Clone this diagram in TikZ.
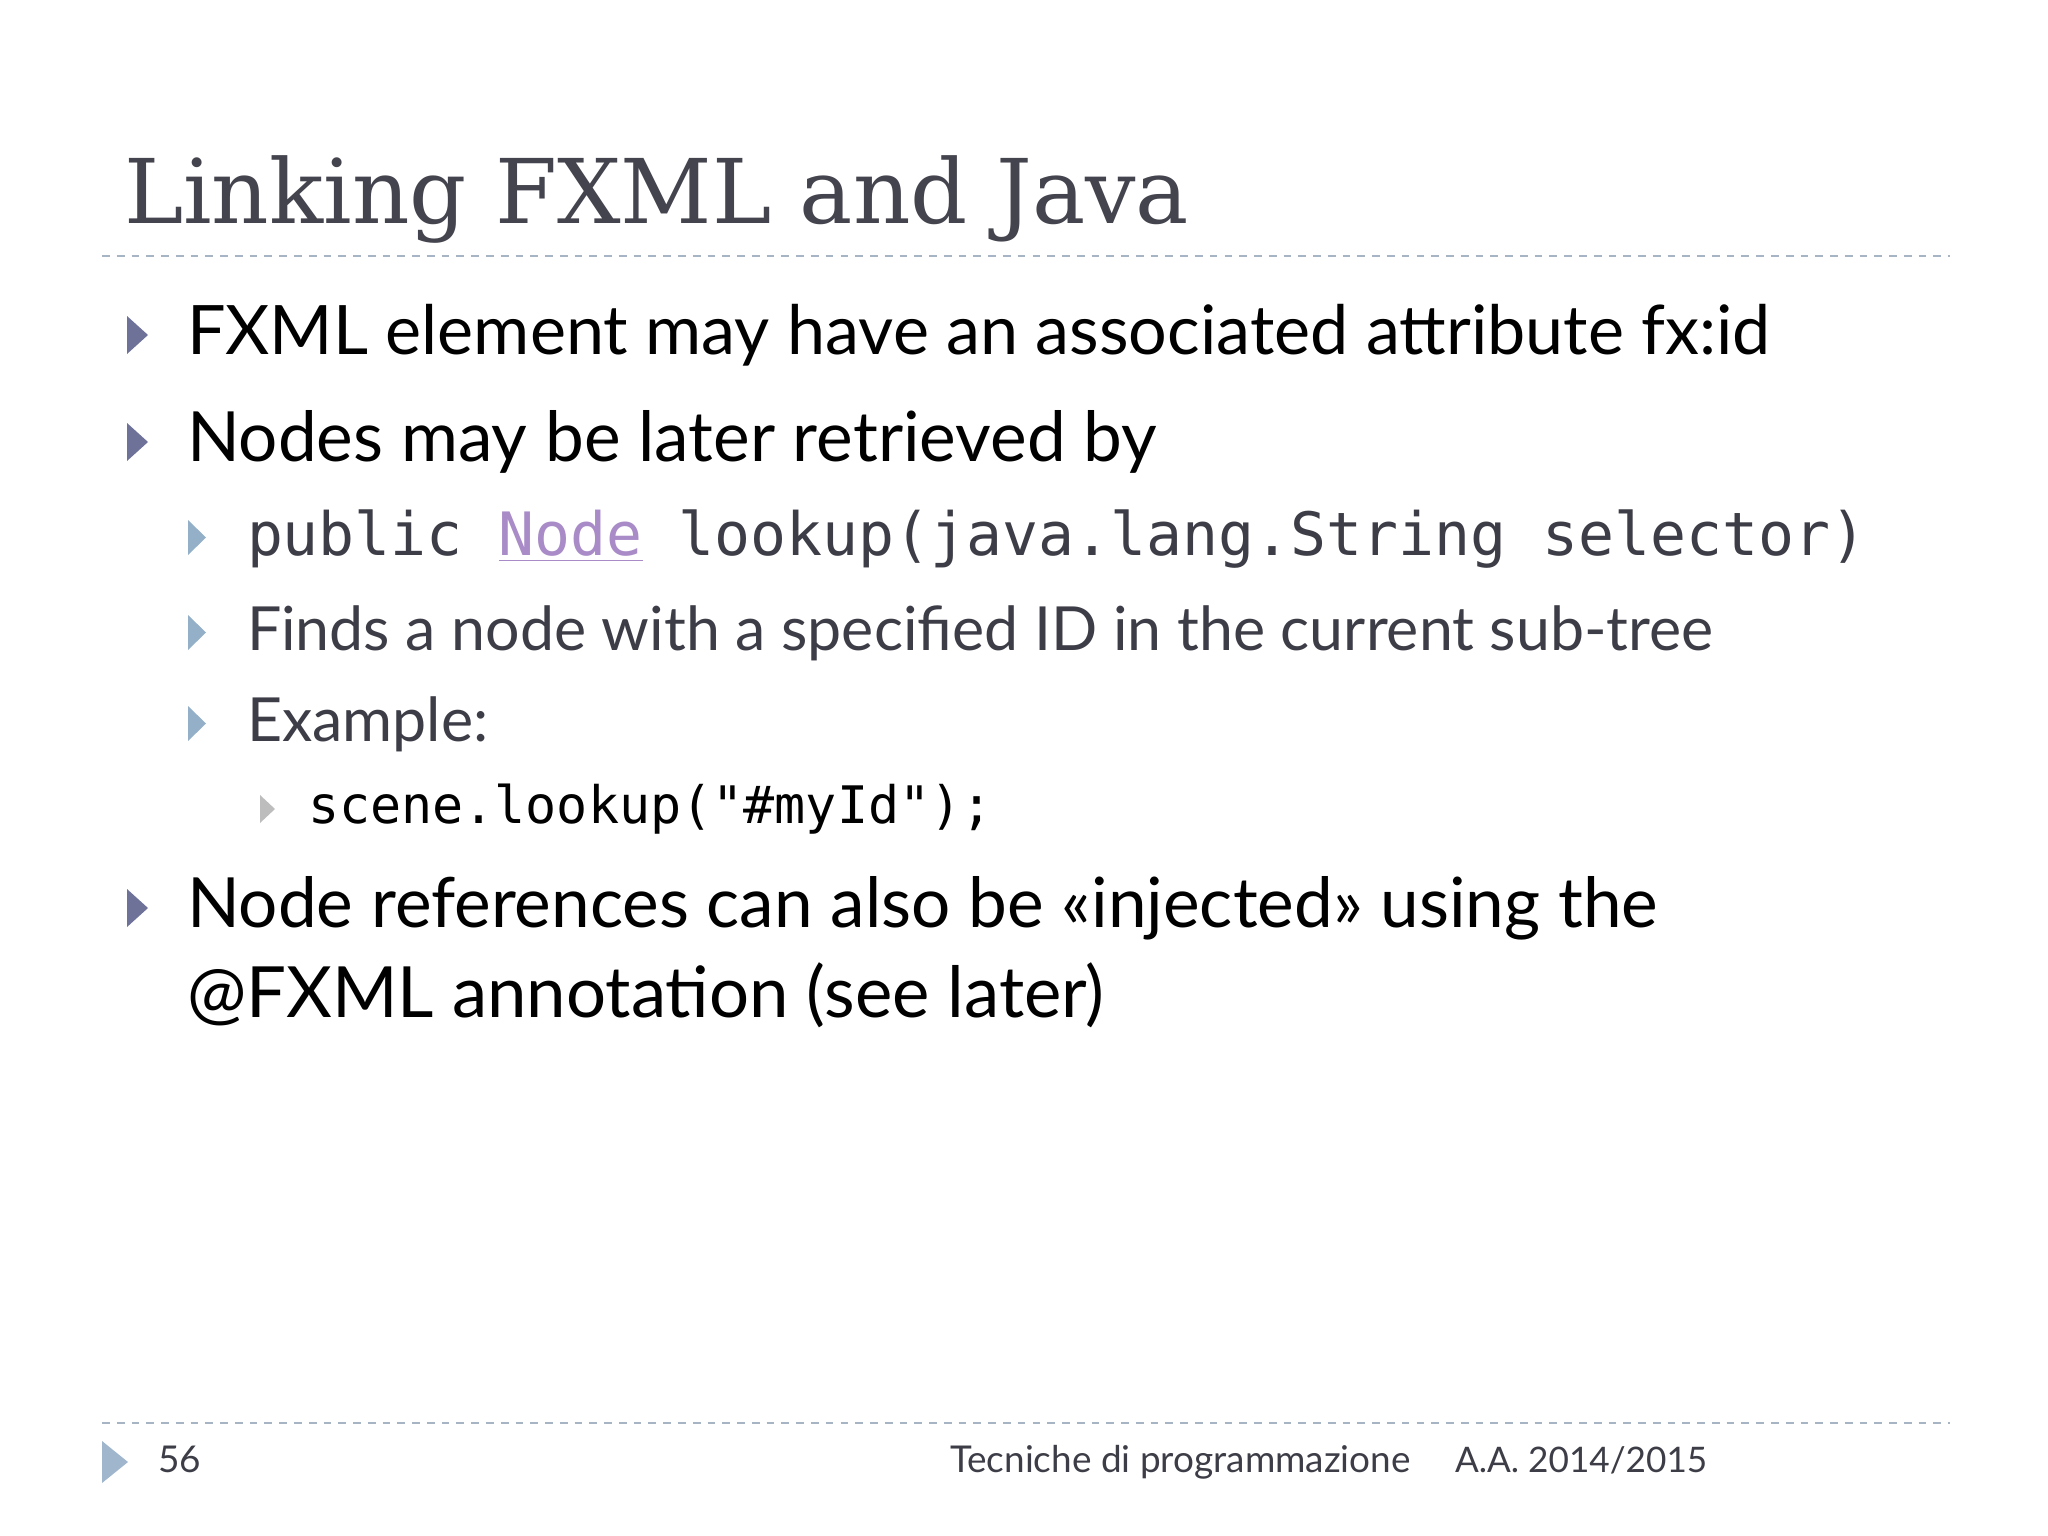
\documentclass[tikz,border=0pt]{standalone}
\usepackage{fontspec}
\setmainfont{Lato}
\newfontfamily\titlefont{DejaVu Serif}
\newfontfamily\codefont{DejaVu Sans Mono}

\definecolor{titlegray}{HTML}{44444E}
\definecolor{subgray}{HTML}{3D3D47}
\definecolor{rulecol}{HTML}{A7B4C4}
\definecolor{lvlone}{HTML}{6E7299}
\definecolor{lvltwo}{HTML}{94B0C8}
\definecolor{lvlthree}{HTML}{BDBDBD}
\definecolor{foottri}{HTML}{9FB6CD}
\definecolor{nodecol}{HTML}{A88BC7}

\tikzset{
	txt/.style={anchor=base west, inner sep=0pt, outer sep=0pt},
	rulebar/.style={rulecol, line width=0.6pt, dash pattern=on 2.2pt off 2pt},
}

\begin{document}
\begin{tikzpicture}[x=0.01cm, y=-0.01cm]
\useasboundingbox (0, 0) rectangle (2048, 1536);
\fill[white] (0, 0) rectangle (2048, 1536);

% title and rules
\node[txt, text=titlegray, font=\titlefont\fontsize{25.4}{30}\selectfont] (title) at (124, 223) {Linking FXML and Java};
\draw[rulebar] (102, 256) -- (1950, 256);
\draw[rulebar] (102, 1423) -- (1950, 1423);

% bullets
\foreach \b in {354, 461, 927}
	\fill[lvlone] (127, \b-38) -- (148, \b-19) -- (127, \b) -- cycle;
\foreach \b in {555, 650, 741}
	\fill[lvltwo] (188, \b-35) -- (206, \b-17.5) -- (188, \b) -- cycle;
\fill[lvlthree] (260, 795) -- (275, 809) -- (260, 823) -- cycle;

% level one
\node[txt, font=\fontsize{19.4}{24}\selectfont] (fxid) at (187, 354) {FXML element may have an associated attribute fx:id};
\node[txt, font=\fontsize{19.7}{24}\selectfont] (retr) at (187, 461) {Nodes may be later retrieved by};
\node[txt, font=\fontsize{19.7}{24}\selectfont] (inja) at (187, 927) {Node references can also be «injected» using the};
\node[txt, font=\fontsize{20.1}{24}\selectfont] (injb) at (187, 1017) {@FXML annotation (see later)};

% level two
\node[txt, text=subgray, font=\codefont\fontsize{17}{20}\selectfont] (sig) at (247, 555) {public \textcolor{nodecol}{\underline{Node}} lookup(java.lang.String selector)};
\node[txt, text=subgray, font=\fontsize{17.3}{20}\selectfont] (finds) at (247, 650) {Finds a node with a specified ID in the current sub-tree};
\node[txt, text=subgray, font=\fontsize{17.3}{20}\selectfont] (exmp) at (247, 741) {Example:};

% level three
\node[txt, font=\codefont\fontsize{14.7}{18}\selectfont] (call) at (308, 823) {scene.lookup("\#myId");};

% footer
\fill[foottri] (102, 1441) -- (128, 1462) -- (102, 1483) -- cycle;
\node[txt, text=subgray, font=\fontsize{10.5}{12}\selectfont] (page) at (158, 1472) {56};
\node[txt, text=subgray, font=\fontsize{10.5}{12}\selectfont] (course) at (950, 1472) {Tecniche di programmazione};
\node[txt, text=subgray, font=\fontsize{10}{12}\selectfont] (year) at (1455, 1472) {A.A. 2014/2015};
\end{tikzpicture}
\end{document}
